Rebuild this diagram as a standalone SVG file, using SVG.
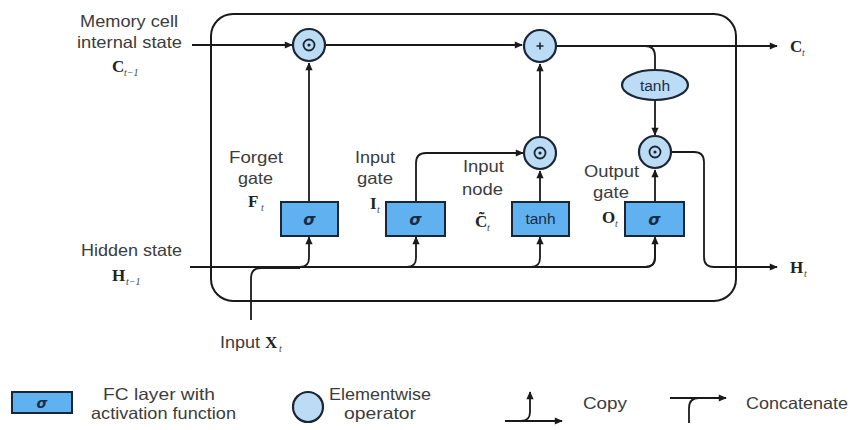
<svg xmlns="http://www.w3.org/2000/svg" width="852" height="430" viewBox="0 0 852 430">
<defs>
<marker id="ah" viewBox="0 0 10 10" refX="9" refY="5" markerWidth="9" markerHeight="8" markerUnits="userSpaceOnUse" orient="auto">
<path d="M0,0.5 L10,5 L0,9.5 z" fill="#1a1a1a"/>
</marker>
</defs>
<style>
.lbl{font-family:"Liberation Sans",Arial,sans-serif;font-size:16.5px;fill:#3c3c3c}
.leg{font-family:"Liberation Sans",Arial,sans-serif;font-size:16.5px;fill:#3c3c3c}
.m{font-family:"Liberation Serif","DejaVu Serif",serif;font-weight:bold;font-size:17px;fill:#222}
.s{font-family:"Liberation Serif","DejaVu Serif",serif;font-style:italic;font-size:10px;fill:#444}
.box{fill:#5fb2ef;stroke:#1b2635;stroke-width:2}
.op{fill:#bcdcf6;stroke:#1b2635;stroke-width:2.2}
.bt{font-family:"Liberation Sans",Arial,sans-serif;font-size:15.5px;fill:#1c2b45;text-anchor:middle}
.sig{font-family:"DejaVu Sans","Liberation Sans",sans-serif;font-style:italic;font-weight:bold;font-size:16px;fill:#1c2b45;text-anchor:middle}
.ln{fill:none;stroke:#1a1a1a;stroke-width:1.8}
.arr{fill:none;stroke:#1a1a1a;stroke-width:1.8;marker-end:url(#ah)}
.dot{fill:#1b2635}
</style>
<rect width="852" height="430" fill="#ffffff"/>

<g id="cell">
<rect x="211" y="14" width="525" height="287" rx="22" ry="22" fill="none" stroke="#1a1a1a" stroke-width="2"/>
</g>

<g id="connectors">
<path class="arr" d="M192,45 H292"/>
<path class="arr" d="M325,45 H522"/>
<path class="arr" d="M309,202 V63"/>
<path class="arr" d="M556,46 H777"/>
<path class="ln" d="M645,46 Q655,46 655,56 V70"/>
<path class="arr" d="M655,100 V135"/>
<path class="arr" d="M416,202 V163 Q416,153 426,153 H523"/>
<path class="arr" d="M540,202 V171"/>
<path class="arr" d="M540,137 V64"/>
<path class="arr" d="M655,202 V170"/>
<path class="arr" d="M671,152 H694 Q704,152 704,162 V257 Q704,267 714,267 H777"/>
<path class="ln" d="M190,267 H645 Q655,267 655,257 V238"/>
<path class="ln" d="M251,320 V278 Q251,268 261,268 H300"/>
<path class="arr" d="M300,267 Q309,267 309,258 V237"/>
<path class="arr" d="M407,267 Q416,267 416,258 V237"/>
<path class="arr" d="M531,267 Q540,267 540,258 V237"/>
<path class="arr" d="M646,267 Q655,267 655,258 V237"/>
</g>

<g id="forget-mult">
<circle class="op" cx="309" cy="45" r="16"/>
<circle cx="309" cy="45" r="5.5" fill="none" stroke="#1b2635" stroke-width="1.8"/>
<circle class="dot" cx="309" cy="45" r="1.6"/>
</g>
<g id="plus">
<circle class="op" cx="540" cy="46" r="16"/>
<path d="M536.5,46 H543.5 M540,42.5 V49.5" stroke="#1b2635" stroke-width="1.6"/>
</g>
<g id="input-mult">
<circle class="op" cx="540" cy="153" r="16"/>
<circle cx="540" cy="153" r="5.5" fill="none" stroke="#1b2635" stroke-width="1.8"/>
<circle class="dot" cx="540" cy="153" r="1.6"/>
</g>
<g id="output-mult">
<circle class="op" cx="655" cy="152" r="16"/>
<circle cx="655" cy="152" r="5.5" fill="none" stroke="#1b2635" stroke-width="1.8"/>
<circle class="dot" cx="655" cy="152" r="1.6"/>
</g>
<g id="tanh-c">
<ellipse class="op" cx="655" cy="85" rx="33" ry="15"/>
<text class="bt" x="655" y="90.5">tanh</text>
</g>

<g id="forget-gate">
<rect class="box" x="281" y="202" width="57" height="34"/>
<text class="sig" x="309.5" y="225">σ</text>
<text class="lbl" x="229" y="163" textLength="54" lengthAdjust="spacingAndGlyphs">Forget</text>
<text class="lbl" x="238" y="184" textLength="35" lengthAdjust="spacingAndGlyphs">gate</text>
<text class="m" x="248" y="207">F</text><text class="s" x="261" y="211">t</text>
</g>
<g id="input-gate">
<rect class="box" x="386" y="202" width="59" height="34"/>
<text class="sig" x="415.5" y="225">σ</text>
<text class="lbl" x="355" y="163" textLength="40" lengthAdjust="spacingAndGlyphs">Input</text>
<text class="lbl" x="357" y="184" textLength="36" lengthAdjust="spacingAndGlyphs">gate</text>
<text class="m" x="370" y="209">I</text><text class="s" x="377" y="213">t</text>
</g>
<g id="input-node">
<rect class="box" x="512" y="202" width="57" height="34"/>
<text class="bt" x="540.5" y="224">tanh</text>
<text class="lbl" x="463" y="172" textLength="41" lengthAdjust="spacingAndGlyphs">Input</text>
<text class="lbl" x="462" y="195" textLength="41" lengthAdjust="spacingAndGlyphs">node</text>
<text class="m" x="475" y="227">C&#x0303;</text><text class="s" x="487" y="231">t</text>
</g>
<g id="output-gate">
<rect class="box" x="625" y="202" width="59" height="34"/>
<text class="sig" x="654.5" y="225">σ</text>
<text class="lbl" x="584" y="177" textLength="55" lengthAdjust="spacingAndGlyphs">Output</text>
<text class="lbl" x="593" y="198" textLength="36" lengthAdjust="spacingAndGlyphs">gate</text>
<text class="m" x="602" y="223">O</text><text class="s" x="615" y="227">t</text>
</g>

<g id="memory-in">
<text class="lbl" x="80" y="27" textLength="98" lengthAdjust="spacingAndGlyphs">Memory cell</text>
<text class="lbl" x="77" y="48" textLength="105" lengthAdjust="spacingAndGlyphs">internal state</text>
<text class="m" x="112" y="72">C</text><text class="s" x="124" y="76">t−1</text>
</g>
<g id="hidden-in">
<text class="lbl" x="81" y="256" textLength="101" lengthAdjust="spacingAndGlyphs">Hidden state</text>
<text class="m" x="112" y="281">H</text><text class="s" x="126" y="285">t−1</text>
</g>
<g id="input-x">
<text class="lbl" x="220" y="348" textLength="40" lengthAdjust="spacingAndGlyphs">Input</text>
<text class="m" x="265" y="348">X</text><text class="s" x="279" y="352">t</text>
</g>
<g id="c-out">
<text class="m" x="790" y="52">C</text><text class="s" x="802" y="56">t</text>
</g>
<g id="h-out">
<text class="m" x="790" y="273">H</text><text class="s" x="804" y="277">t</text>
</g>

<g id="legend-fc">
<rect class="box" x="12" y="392" width="60" height="21"/>
<text class="sig" x="42" y="408" style="font-size:14px">σ</text>
<text class="leg" x="103" y="400" textLength="112" lengthAdjust="spacingAndGlyphs">FC layer with</text>
<text class="leg" x="91" y="419" textLength="145" lengthAdjust="spacingAndGlyphs">activation function</text>
</g>
<g id="legend-op">
<circle class="op" cx="308" cy="407" r="15"/>
<text class="leg" x="329" y="400" textLength="102" lengthAdjust="spacingAndGlyphs">Elementwise</text>
<text class="leg" x="344" y="419" textLength="72" lengthAdjust="spacingAndGlyphs">operator</text>
</g>
<g id="legend-copy">
<path class="arr" d="M505,421 H562"/>
<path class="arr" d="M521,421 Q530,421 530,412 V392"/>
<text class="leg" x="583" y="409" textLength="44" lengthAdjust="spacingAndGlyphs">Copy</text>
</g>
<g id="legend-concat">
<path class="arr" d="M670,398 H726"/>
<path class="ln" d="M689,423 V408 Q689,398 699,398"/>
<text class="leg" x="746" y="409" textLength="102" lengthAdjust="spacingAndGlyphs">Concatenate</text>
</g>
</svg>
